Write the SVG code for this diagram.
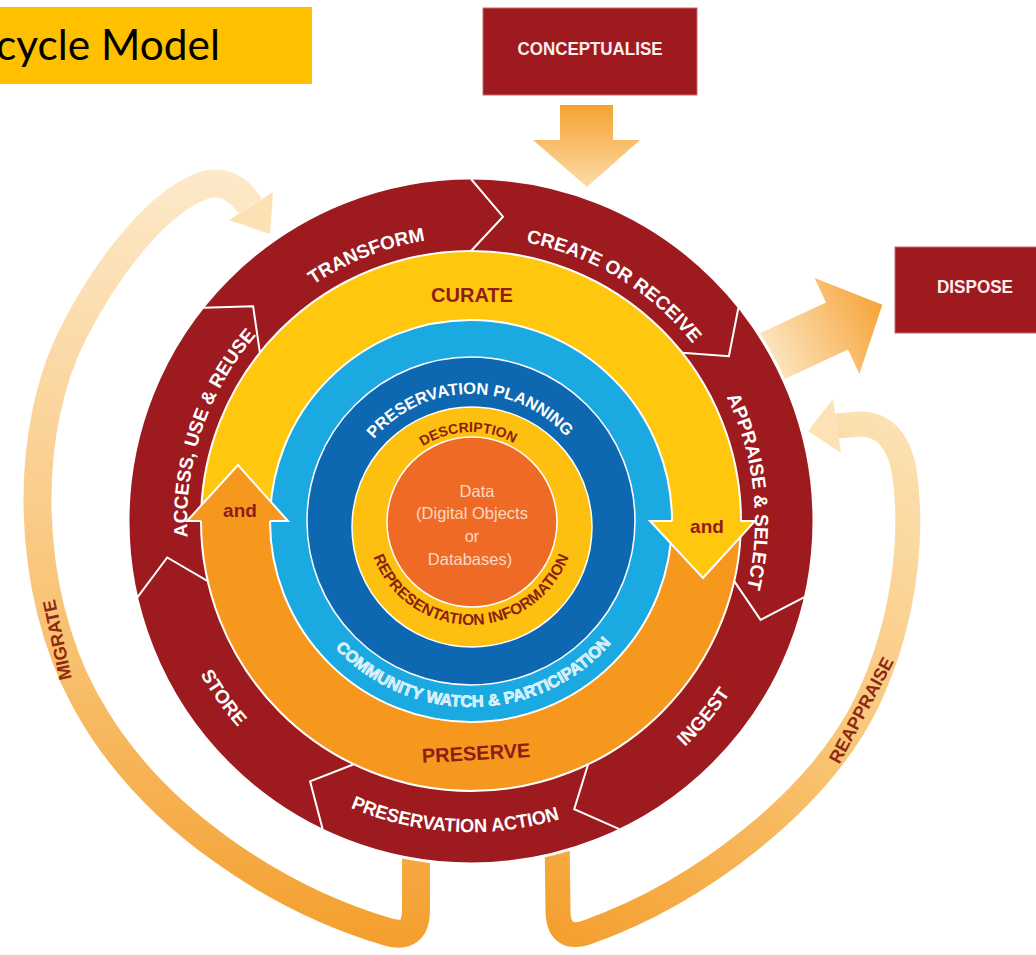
<svg xmlns="http://www.w3.org/2000/svg" width="1036" height="955" viewBox="0 0 1036 955">
  <defs>
    <style>
      .stage { font-family: "Liberation Sans", Arial, sans-serif; font-weight: bold; font-size: 19px; fill: #ffffff; text-anchor: middle; }
      .chev { fill: none; stroke: #ffffff; stroke-width: 2; stroke-linejoin: miter; }
      .edge { fill: none; stroke: #ffffff; stroke-width: 2; }
      .phase { font-family: "Liberation Sans", Arial, sans-serif; font-weight: bold; fill: #8E1C17; text-anchor: middle; }
      .box { fill: #9E1A1F; stroke: #c9686b; stroke-width: 1; }
      .boxtext { font-family: "Liberation Sans", Arial, sans-serif; font-weight: bold; font-size: 18px; fill: #fbeeee; text-anchor: middle; }
      .bandlabel { font-family: "Liberation Sans", Arial, sans-serif; font-weight: bold; font-size: 18px; fill: #8E2A12; text-anchor: middle; }
      .data { font-family: "Liberation Sans", Arial, sans-serif; font-size: 16.5px; fill: #FBD8C6; text-anchor: middle; }
      .inner { font-family: "Liberation Sans", Arial, sans-serif; font-weight: bold; text-anchor: middle; }
    </style>
    <linearGradient id="g-down" x1="0" y1="0" x2="0" y2="1">
      <stop offset="0" stop-color="#F6A233"/>
      <stop offset="1" stop-color="#FCDCA8"/>
    </linearGradient>
    <linearGradient id="g-dispose" x1="0" y1="0" x2="1" y2="0">
      <stop offset="0" stop-color="#FDE7C3"/>
      <stop offset="1" stop-color="#F6A43A"/>
    </linearGradient>
    <linearGradient id="g-migrate" gradientUnits="userSpaceOnUse" x1="0" y1="945" x2="0" y2="175">
      <stop offset="0" stop-color="#F49F2E"/>
      <stop offset="0.35" stop-color="#F8BE6A"/>
      <stop offset="1" stop-color="#FDE9C9"/>
    </linearGradient>
    <linearGradient id="g-reappraise" gradientUnits="userSpaceOnUse" x1="560" y1="945" x2="900" y2="400">
      <stop offset="0" stop-color="#F49F2E"/>
      <stop offset="0.5" stop-color="#F9C676"/>
      <stop offset="1" stop-color="#FCE3B8"/>
    </linearGradient>
    <!-- baselines for the ring labels -->
    <path id="p-transform" d="M 187.1 528.4 A 284 284 0 0 1 683.7 332.8"/>
    <path id="p-create" d="M 293.4 299.4 A 284 284 0 0 1 749.5 576.6"/>
    <path id="p-appraise" d="M 539.2 245.3 A 284 284 0 0 1 595.9 776.0"/>
    <path id="p-access" d="M 293.0 742.3 A 284 284 0 0 1 465.1 237.1"/>
    <path id="p-ingest" d="M 364.1 813.1 A 311 311 0 0 0 740.6 366.0"/>
    <path id="p-action" d="M 173.4 611.4 A 311 311 0 0 0 757.1 643.0"/>
    <path id="p-store" d="M 214.7 344.8 A 311 311 0 0 0 554.1 820.7"/>
    <path id="p-planning" d="M 351.2 478.8 A 127 127 0 0 1 589.9 476.3"/>
    <path id="p-description" d="M 386.4 493.5 A 89 89 0 0 1 553.5 487.7"/>
    <path id="p-repinfo" d="M 368.6 539.1 A 104 104 0 0 0 573.4 539.1"/>
    <path id="p-community" d="M 297.4 587.7 A 186 186 0 0 0 646.9 581.6"/>
  </defs>

  <rect width="1036" height="955" fill="#ffffff"/>

  <!-- title banner -->
  <g id="title">
    <rect x="0" y="7" width="312" height="77" fill="#FFC000"/>
    <text x="-4" y="60" font-family="Lato, 'Open Sans', sans-serif" font-size="42" fill="#000000" textLength="224" lengthAdjust="spacingAndGlyphs">cycle Model</text>
  </g>

  <!-- arrows and loops around the cycle -->
  <g id="connectors">
    <polygon id="arrow-conceptualise" points="560,105 613,105 613,140 640,140 587,187 533,140 560,140" fill="url(#g-down)"/>
    <polygon id="arrow-dispose" transform="translate(837 326) rotate(-25)" points="-78,-26 0,-26 0,-53 50,0 0,53 0,26 -78,26" fill="url(#g-dispose)"/>
    <g id="loop-migrate">
      <path d="M 416 830 L 416 910 Q 416 940 388 932 C 280 900 150 820 85 700 C 25 590 22 430 75 330 C 110 262 160 200 205 185 Q 232 178 250 206" fill="none" stroke="url(#g-migrate)" stroke-width="28" stroke-linejoin="round"/>
      <polygon points="229,220 273,192 270,234" fill="#FCE1B4"/>
      <text class="bandlabel" transform="translate(57 640) rotate(-102)" y="6.5">MIGRATE</text>
    </g>
    <g id="loop-reappraise">
      <path d="M 557 830 L 558 912 Q 559 942 588 932 C 700 892 820 800 868 700 C 910 610 912 520 904 470 Q 895 424 860 424 L 836 426" fill="none" stroke="url(#g-reappraise)" stroke-width="25" stroke-linejoin="round"/>
      <polygon points="833,399 841,453 808,431" fill="#FCE2B6"/>
      <text class="bandlabel" transform="translate(861 710) rotate(-62)" y="6.5">REAPPRAISE</text>
    </g>
  </g>

  <g id="conceptualise">
    <rect class="box" x="483" y="8" width="214" height="87"/>
    <text class="boxtext" x="590" y="55" textLength="145" lengthAdjust="spacingAndGlyphs">CONCEPTUALISE</text>
  </g>

  <g id="dispose">
    <rect class="box" x="895" y="247" width="145" height="86"/>
    <text class="boxtext" x="975" y="293" textLength="76" lengthAdjust="spacingAndGlyphs">DISPOSE</text>
  </g>

  <!-- concentric rings -->
  <g id="rings">
    <circle cx="471" cy="521" r="343" fill="#9D1A1E" stroke="#ffffff" stroke-width="3"/>
    <path id="curate-band" d="M 201 521 A 270 270 0 0 1 741 521 L 672 521 A 201 201 0 0 0 270 521 Z" fill="#FFC70D"/>
    <path id="preserve-band" d="M 741 521 A 270 270 0 0 1 201 521 L 270 521 A 201 201 0 0 0 672 521 Z" fill="#F7981E"/>
    <circle class="edge" cx="471" cy="521" r="270"/>
    <circle cx="471" cy="521" r="201" fill="#1BA9E1" stroke="#ffffff" stroke-width="2"/>
    <circle cx="471" cy="521" r="164" fill="#0D68B1" stroke="#ffffff" stroke-width="1.5"/>
    <circle cx="472" cy="527" r="120" fill="#FDC010" stroke="#ffffff" stroke-width="1.5"/>
    <circle cx="472" cy="522" r="85" fill="#EF6A25" stroke="#ffffff" stroke-width="1.5"/>
  </g>

  <!-- sequential actions on the outer ring -->
  <g id="stage-create">
    <polyline class="chev" points="471,179 503.0,216.7 471,251"/>
    <text class="stage"><textPath href="#p-create" startOffset="50%">CREATE OR RECEIVE</textPath></text>
  </g>
  <g id="stage-appraise">
    <polyline class="chev" points="738.4,307.8 728.9,356.3 682.1,352.7"/>
    <text class="stage"><textPath href="#p-appraise" startOffset="50%">APPRAISE &amp; SELECT</textPath></text>
  </g>
  <g id="stage-ingest">
    <polyline class="chev" points="804.4,597.1 760.6,619.9 734.2,581.1"/>
    <text class="stage"><textPath href="#p-ingest" startOffset="50%">INGEST</textPath></text>
  </g>
  <g id="stage-action">
    <polyline class="chev" points="619.4,829.1 574.2,809.1 588.1,764.3"/>
    <text class="stage"><textPath href="#p-action" startOffset="50%" textLength="214" lengthAdjust="spacingAndGlyphs">PRESERVATION ACTION</textPath></text>
  </g>
  <g id="stage-store">
    <polyline class="chev" points="322.6,829.1 310.1,781.3 353.9,764.3"/>
    <text class="stage"><textPath href="#p-store" startOffset="50%">STORE</textPath></text>
  </g>
  <g id="stage-access">
    <polyline class="chev" points="137.6,597.1 167.2,557.5 207.8,581.1"/>
    <text class="stage"><textPath href="#p-access" startOffset="50%">ACCESS, USE &amp; REUSE</textPath></text>
  </g>
  <g id="stage-transform">
    <polyline class="chev" points="203.6,307.8 253.1,306.2 259.9,352.7"/>
    <text class="stage"><textPath href="#p-transform" startOffset="50%">TRANSFORM</textPath></text>
  </g>

  <!-- curate / preserve band with its two arrowheads -->
  <g id="curate-preserve">
    <polygon points="187,521 238,465 288,521" fill="#F7981E"/>
    <polyline points="201,521 187,521 238,465 288,521 270,521" fill="none" stroke="#ffffff" stroke-width="2"/>
    <polygon points="650,521 703,578 755,521" fill="#FFC70D"/>
    <polyline points="672,521 650,521 703,578 755,521 741,521" fill="none" stroke="#ffffff" stroke-width="2"/>
    <text class="phase" x="240" y="517" font-size="19">and</text>
    <text class="phase" x="707" y="533" font-size="19">and</text>
    <text class="phase" x="472" y="302" font-size="20">CURATE</text>
    <text class="phase" x="476" y="760" font-size="20" transform="rotate(-3 476 752)">PRESERVE</text>
  </g>

  <g id="planning">
    <text class="inner" font-size="16.5" fill="#ffffff"><textPath href="#p-planning" startOffset="50%">PRESERVATION PLANNING</textPath></text>
  </g>
  <g id="community">
    <text class="inner" font-size="16.5" fill="#c4ebfb" stroke="#ffffff" stroke-width="0.6"><textPath href="#p-community" startOffset="50%">COMMUNITY WATCH &amp; PARTICIPATION</textPath></text>
  </g>
  <g id="description">
    <text class="inner" font-size="14" fill="#8A1E12"><textPath href="#p-description" startOffset="50%">DESCRIPTION</textPath></text>
  </g>
  <g id="representation">
    <text class="inner" font-size="15.5" fill="#8A1E12"><textPath href="#p-repinfo" startOffset="50%">REPRESENTATION INFORMATION</textPath></text>
  </g>

  <g id="data">
    <text class="data" x="477" y="497">Data</text>
    <text class="data" x="472" y="519">(Digital Objects</text>
    <text class="data" x="472" y="542">or</text>
    <text class="data" x="470" y="565">Databases)</text>
  </g>
</svg>
